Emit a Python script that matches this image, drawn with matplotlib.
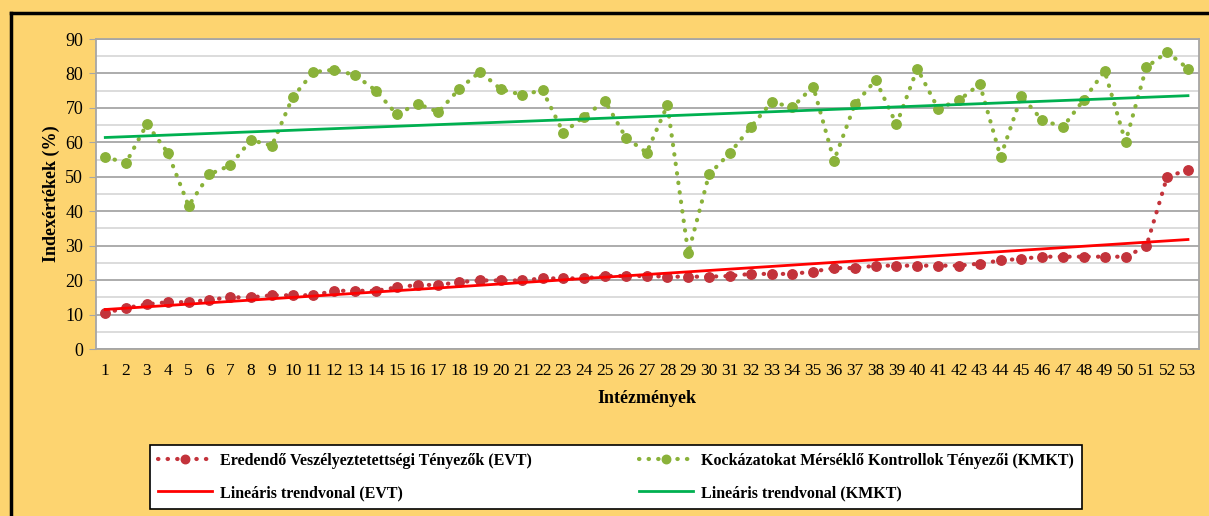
import numpy as np
import matplotlib
matplotlib.use("Agg")
import matplotlib.pyplot as plt
from matplotlib.lines import Line2D

institutions = list(range(1, 54))
evt = [10.5, 11.9, 13.0, 13.6, 13.6, 14.3, 15.0, 15.0, 15.6, 15.6,
       15.6, 16.9, 16.9, 16.9, 17.9, 18.6, 18.6, 19.4, 19.9, 19.9,
       19.9, 20.5, 20.5, 20.5, 21.2, 21.2, 21.2, 21.0, 21.0, 21.0,
       21.2, 21.8, 21.8, 21.8, 22.5, 23.5, 23.5, 24.2, 24.2, 24.2,
       24.2, 24.2, 24.8, 25.7, 26.2, 26.8, 26.8, 26.8, 26.8, 26.8,
       29.8, 50.0, 52.0]
kmkt = [55.7, 54.1, 65.3, 57.0, 41.6, 50.7, 53.3, 60.7, 59.0, 73.1,
        80.4, 81.1, 79.5, 75.0, 68.1, 71.2, 68.8, 75.5, 80.5, 75.4,
        73.8, 75.1, 62.8, 67.5, 72.0, 61.4, 57.0, 70.8, 27.8, 50.7,
        56.9, 64.4, 71.7, 70.2, 76.2, 54.7, 71.0, 78.1, 65.2, 81.4,
        69.8, 72.2, 76.9, 55.8, 73.4, 66.4, 64.5, 72.4, 80.7, 60.1,
        81.8, 86.2, 81.4]
labels = ["Eredendő Veszélyeztetettségi Tényezők (EVT)",
          "Lineáris trendvonal (EVT)",
          "Kockázatokat Mérséklő Kontrollok Tényezői (KMKT)",
          "Lineáris trendvonal (KMKT)"]

plt.rcParams['font.family'] = ['Liberation Serif', 'DejaVu Serif']

W, H = 1209, 516
fig = plt.figure(figsize=(W/100, H/100), dpi=100)
bg = '#FDD470'
fig.patch.set_facecolor(bg)

# border lines (top and left)
fig.add_artist(Line2D([11/W, 11/W], [0, 1 - 13/H], color='black', lw=2.5, transform=fig.transFigure))
fig.add_artist(Line2D([11/W, 1], [1 - 13/H, 1 - 13/H], color='black', lw=2.5, transform=fig.transFigure))

ax = fig.add_axes([95.7/W, 1 - 349/H, (1199 - 95.7)/W, (349 - 39)/H])
ax.set_facecolor('white')

x = np.array(institutions)
red = '#C3333B'
green = '#8AB23A'
dot = (0, (0.1, 2.2))

l1, = ax.plot(x, evt, color=red, linestyle=dot, lw=3, dash_capstyle='round',
              marker='o', markersize=6.8, zorder=4)
l3, = ax.plot(x, kmkt, color=green, linestyle=dot, lw=3, dash_capstyle='round',
              marker='o', markersize=6.8, zorder=4)

pe = np.polyfit(x, evt, 1)
pk = np.polyfit(x, kmkt, 1)
l2, = ax.plot(x, np.polyval(pe, x), color='#FF0000', lw=2, zorder=5)
l4, = ax.plot(x, np.polyval(pk, x), color='#00B050', lw=2, zorder=5)

ax.set_xlim(0.54, 53.53)
ax.set_ylim(0, 90)
ax.set_yticks(range(0, 91, 10))
ax.set_yticks(range(5, 90, 10), minor=True)
ax.set_xticks(x)
ax.set_xticklabels([str(i) for i in institutions], fontsize=12.5)
ax.tick_params(axis='y', labelsize=13, length=5, color='#A6A6A6', pad=4)
ax.tick_params(axis='y', which='minor', length=0)
ax.tick_params(axis='x', length=0, pad=10)
ax.grid(True, which='major', axis='y', color='#A6A6A6', lw=1.3)
ax.grid(True, which='minor', axis='y', color='#D9D9D9', lw=1.3)
ax.set_axisbelow(True)
for s in ax.spines.values():
    s.set_color('#A6A6A6')
    s.set_linewidth(1.3)

ax.set_ylabel('Indexértékek (%)', fontsize=13, fontweight='bold', labelpad=4)
ax.set_xlabel('Intézmények', fontsize=13, fontweight='bold', labelpad=8)

leg = fig.legend([l1, l2, l3, l4], labels, ncol=2, loc='lower left',
                 bbox_to_anchor=(150/W, 7/H, (1082 - 150)/W, (509 - 441)/H),
                 mode='expand', frameon=True, fancybox=False, edgecolor='black',
                 facecolor='white', framealpha=1,
                 prop={'weight': 'bold', 'size': 11.5}, handlelength=3.4,
                 handletextpad=0.5, borderpad=0.5,
                 borderaxespad=0, labelspacing=1.0, markerscale=0.9)
leg.get_frame().set_linewidth(1.2)

fig.savefig('out.png', dpi=100, facecolor=bg)
